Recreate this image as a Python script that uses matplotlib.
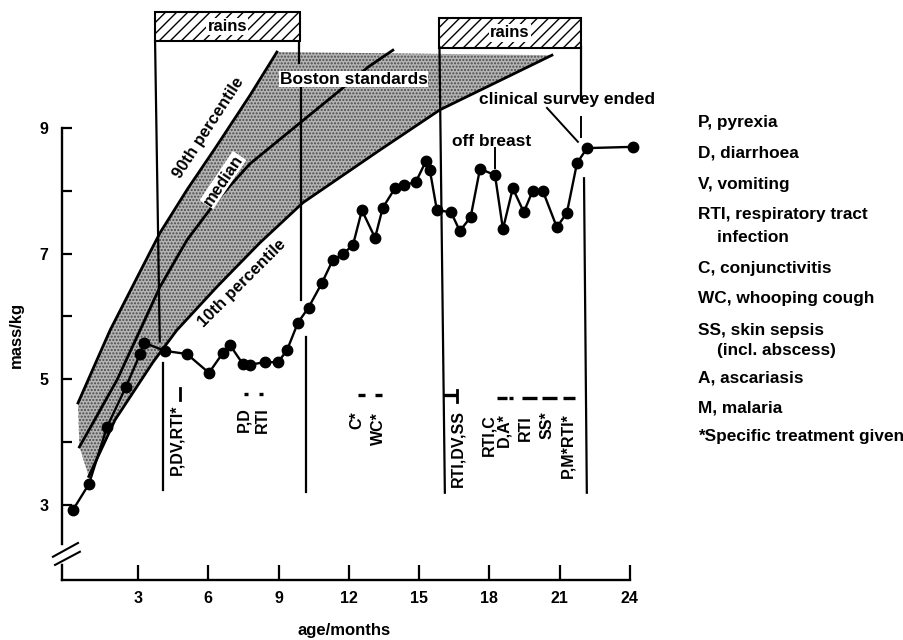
import matplotlib.pyplot as plt
import matplotlib.patches as mpatches

plt.rcParams['font.family'] = ['Liberation Sans', 'DejaVu Sans']
plt.rcParams['font.weight'] = 'bold'
plt.rcParams['hatch.linewidth'] = 1.0

# weight of the child (months, kg)
age = [0.23, 0.91, 1.68, 2.49, 3.09, 3.26, 4.15, 5.09, 6.03, 6.63, 6.93, 7.48,
       7.78, 8.42, 8.98, 9.36, 9.83, 10.28, 10.85, 11.32, 11.75, 12.18, 12.56,
       13.12, 13.45, 13.97, 14.35, 14.86, 15.29, 15.46, 15.76, 16.36, 16.74,
       17.2, 17.6, 18.24, 18.58, 19.0, 19.47, 19.85, 20.28, 20.88, 21.31,
       21.74, 22.17, 24.13]
mass = [2.92, 3.33, 4.24, 4.88, 5.40, 5.58, 5.45, 5.40, 5.10, 5.42, 5.54, 5.24,
        5.23, 5.27, 5.27, 5.46, 5.90, 6.14, 6.53, 6.90, 6.99, 7.14, 7.69,
        7.25, 7.73, 8.04, 8.09, 8.14, 8.47, 8.33, 7.69, 7.66, 7.36,
        7.58, 8.35, 8.25, 7.39, 8.04, 7.66, 8.00, 8.00, 7.42, 7.65,
        8.44, 8.68, 8.70]

# Boston standards
p90_age = [0.44, 1.1, 1.81, 2.88, 3.94, 5.1, 6.37, 7.78, 8.93]
p90_kg = [4.62, 5.18, 5.78, 6.56, 7.33, 8.02, 8.72, 9.52, 10.21]
med_age = [0.5, 1.3, 2.11, 3.09, 3.94, 5.1, 6.37, 7.78, 9.91, 11.49, 12.82, 13.88]
med_kg = [3.92, 4.45, 4.99, 5.78, 6.47, 7.22, 7.85, 8.43, 9.08, 9.56, 9.97, 10.24]
p10_age = [0.9, 2.02, 3.64, 4.66, 6.37, 8.2, 10.04, 13.33, 15.89, 20.67]
p10_kg = [3.45, 4.35, 5.27, 5.78, 6.47, 7.17, 7.81, 8.65, 9.29, 10.16]

# rainy seasons (months)
rains_start = [3.73, 15.87]
rains_end = [9.9, 21.9]

# illness episodes: label, month, kg of label centre
episodes = [("P,DV,RTI*", 4.67, 4.03), ("P,D", 7.52, 4.35), ("RTI", 8.3, 4.35),
            ("C*", 12.35, 4.35), ("WC*", 13.25, 4.22), ("RTI,DV,SS", 16.66, 3.89),
            ("RTI,C", 17.96, 4.11), ("D,A*", 18.64, 4.19), ("RTI", 19.52, 4.22),
            ("SS*", 20.46, 4.27), ("P,M*RTI*", 21.35, 3.94)]
dash_start = [7.53, 8.17, 12.39, 13.12, 16.02, 18.32, 18.84, 19.39, 20.24, 21.14]
dash_end = [7.70, 8.34, 12.69, 13.41, 16.62, 18.75, 19.01, 20.03, 20.88, 21.65]
dash_y = [4.76, 4.76, 4.75, 4.75, 4.75, 4.70, 4.70, 4.70, 4.70, 4.70]

key_lines = ["P, pyrexia", "D, diarrhoea", "V, vomiting", "RTI, respiratory tract",
             "    infection", "C, conjunctivitis", "WC, whooping cough",
             "SS, skin sepsis", "    (incl. abscess)", "A, ascariasis", "M, malaria",
             "*Specific treatment given"]
key_y = [122, 153, 185, 215, 237, 268, 298, 330, 350, 378, 408, 437]

W, H = 904, 640
fig = plt.figure(figsize=(W / 100, H / 100), dpi=100)
ax = fig.add_axes([62 / W, 60 / H, 578 / W, 570 / H])
ax.set_xlim(-0.243, 24.43)
ax.set_ylim(1.80, 10.88)

# shaded band between 90th and 10th percentile
band_x = p90_age + p10_age[::-1] + [med_age[0]]
band_y = p90_kg + p10_kg[::-1] + [med_kg[0]]
ax.fill(band_x, band_y, facecolor='#b4b4b4', edgecolor='#4a4a4a', hatch='.....',
        linewidth=0, zorder=1)
for xs, ys in [(p90_age, p90_kg), (med_age, med_kg), (p10_age, p10_kg)]:
    ax.plot(xs, ys, color='black', lw=2.0, zorder=2, solid_joinstyle='round')

# rains boxes
for a, b, top in zip(rains_start, rains_end, [10.85, 10.75]):
    ax.add_patch(mpatches.Rectangle((a, top - 0.47), b - a, 0.47, facecolor='white',
                                    edgecolor='black', hatch='///', lw=1.5, zorder=3))
    ax.text((a + b) / 2, top - 0.235, "rains", ha='center', va='center', fontsize=12,
            zorder=4, bbox=dict(facecolor='white', edgecolor='none', pad=1))

# vertical rain boundaries (broken where text / data sit)
segs = [([3.73, 3.93], [10.37, 5.6]), ([4.07, 4.07], [5.26, 3.24]),
        ([9.88, 9.88], [10.37, 10.03]), ([9.96, 9.96], [9.64, 6.26]),
        ([10.17, 10.17], [5.67, 3.20]), ([15.87, 16.1], [10.29, 3.19]),
        ([21.91, 21.91], [10.29, 9.43]), ([22.04, 22.16], [8.20, 3.19])]
for xs, ys in segs:
    ax.plot(xs, ys, color='black', lw=1.6, zorder=3)
ax.plot([21.91, 21.91], [9.18, 8.86], color='black', lw=1.4, zorder=3)

# weight curve
ax.plot(age, mass, color='black', lw=1.7, marker='o', markersize=7.5, zorder=6)

# curve labels
ax.text(6.0, 9.0, "90th percentile", rotation=57, ha='center', va='center',
        fontsize=12, zorder=4)
ax.text(6.63, 8.17, "median", rotation=56, ha='center', va='center', fontsize=12,
        zorder=4, bbox=dict(facecolor='white', edgecolor='none', pad=0.5))
ax.text(7.45, 6.52, "10th percentile", rotation=45, ha='center', va='center',
        fontsize=12, zorder=4)
ax.text(12.2, 9.78, "Boston standards", ha='center', va='center', fontsize=12.5,
        zorder=4, bbox=dict(facecolor='white', edgecolor='none', pad=0.5))
ax.text(21.3, 9.45, "clinical survey ended", ha='center', va='center', fontsize=12.5,
        zorder=4)
ax.plot([20.46, 21.78], [9.32, 8.78], color='black', lw=1.4, zorder=4)
ax.text(18.1, 8.79, "off breast", ha='center', va='center', fontsize=12.5, zorder=4)
ax.plot([18.24, 18.24], [8.68, 8.36], color='black', lw=1.4, zorder=4)

# illness episodes
for lab, x, y in episodes:
    ax.text(x, y, lab, rotation=90, ha='center', va='center', fontsize=11.5, zorder=4)
for a, b, y in zip(dash_start, dash_end, dash_y):
    ax.plot([a, b], [y, y], color='black', lw=2.4, solid_capstyle='butt', zorder=4)
ax.plot([4.8, 4.8], [4.86, 4.67], color='black', lw=2.0, zorder=4)
ax.plot([16.62, 16.62], [4.83, 4.63], color='black', lw=2.0, zorder=4)

# axes
ax.spines[['top', 'right']].set_visible(False)
ax.spines['left'].set_bounds(1.80, 9.0)
ax.spines['bottom'].set_bounds(-0.243, 24)
for s in ['left', 'bottom']:
    ax.spines[s].set_linewidth(1.7)
ax.set_xticks([3, 6, 9, 12, 15, 18, 21, 24])
ax.set_yticks([3, 5, 7, 9])
ax.set_yticks([4, 6, 8], minor=True)
ax.tick_params(axis='x', direction='in', length=11, width=1.6, pad=8, labelsize=11.5)
ax.tick_params(axis='y', which='both', direction='in', length=7, width=1.6, pad=10,
               labelsize=11.5)

# axis break
ax.plot([-0.243, -0.243], [2.1, 2.31], color='white', lw=4, clip_on=False, zorder=7)
ax.plot([-0.63, 0.44], [2.17, 2.39], color='black', lw=1.5, clip_on=False, zorder=8)
ax.plot([-0.54, 0.52], [2.04, 2.25], color='black', lw=1.5, clip_on=False, zorder=8)

fig.text(16 / W, 1 - 335 / H, "mass/kg", rotation=90, ha='center', va='center',
         fontsize=12)
fig.text(344 / W, 1 - 631 / H, "age/months", ha='center', va='center', fontsize=12)

for t, y in zip(key_lines, key_y):
    fig.text(698 / W, 1 - y / H, t, ha='left', va='center', fontsize=12.4)

fig.savefig("out.png", dpi=100)
